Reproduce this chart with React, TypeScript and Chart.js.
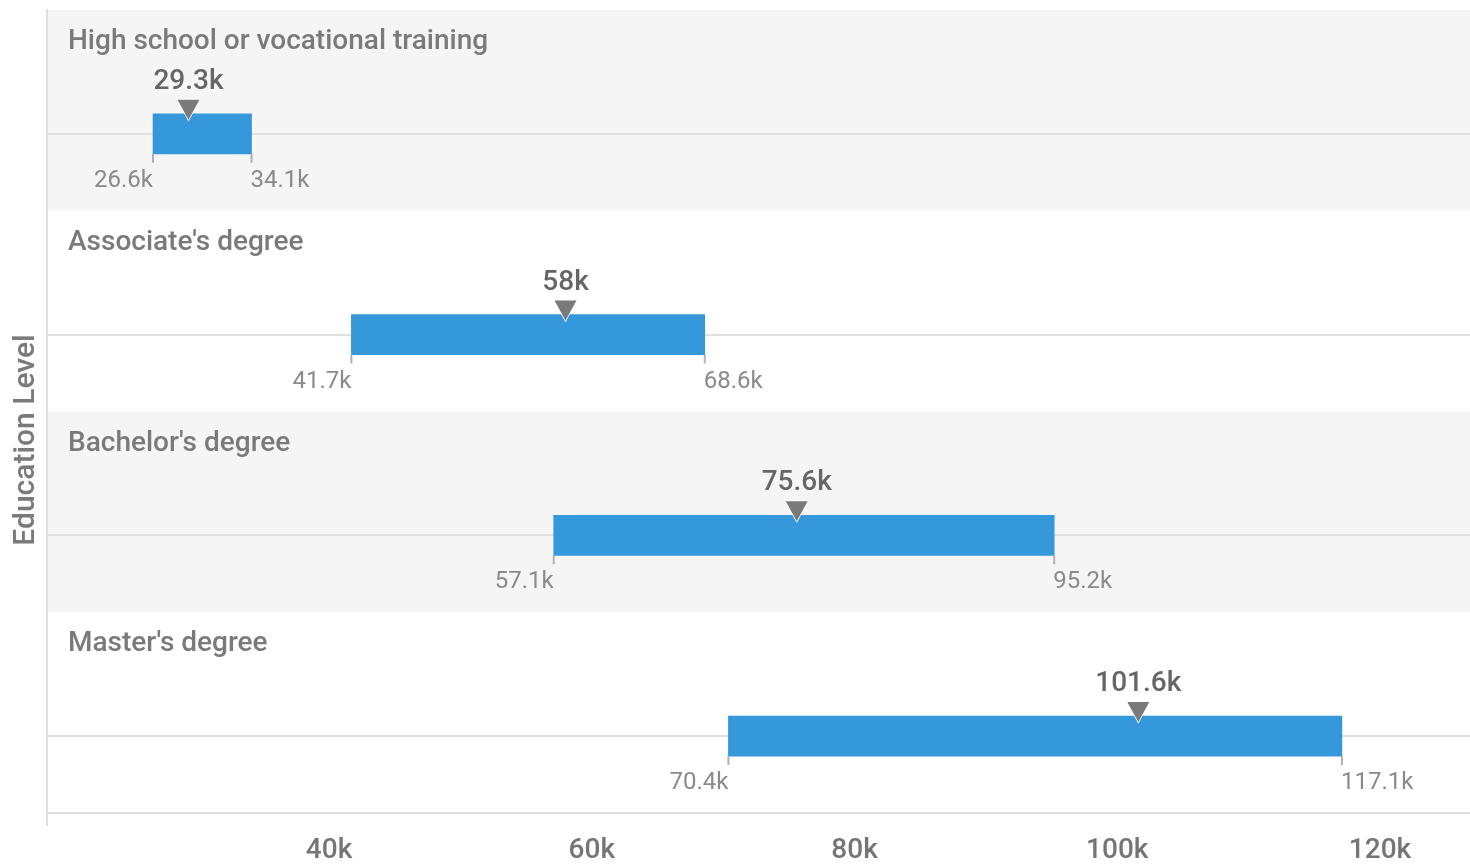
import React, { useEffect, useRef } from 'react';
import { Chart, registerables } from 'chart.js';

Chart.register(...registerables);

const categories = [
  'High school or vocational training',
  "Associate's degree",
  "Bachelor's degree",
  "Master's degree",
];
const lowValues = [26600, 41700, 57100, 70400];
const highValues = [34100, 68600, 95200, 117100];
const markerValues = [29300, 58000, 75600, 101600];
const xTickValues = [40000, 60000, 80000, 100000, 120000];
const yAxisTitle = 'Education Level';

const X_MIN = 18530;
const X_MAX = 126850;
const Y_MIN = -0.617;
const Y_MAX = 3.383;

const FONT = 'Roboto, "Noto Sans", sans-serif';

function fmtK(v: number): string {
  const k = Math.round(v / 100) / 10;
  return k + 'k';
}

const overlayPlugin = {
  id: 'overlay',
  beforeDraw(chart: any) {
    const { ctx, chartArea, scales } = chart;
    const y = scales.y;
    ctx.save();
    categories.forEach((_, i) => {
      const top = y.getPixelForValue(i + Y_MIN);
      const bottom = y.getPixelForValue(i + Y_MIN + 1);
      ctx.fillStyle = i % 2 === 0 ? '#f5f5f5' : '#ffffff';
      ctx.fillRect(chartArea.left, top, chartArea.right - chartArea.left, bottom - top);
    });
    ctx.restore();
  },
  afterDraw(chart: any) {
    const { ctx, chartArea, scales } = chart;
    const x = scales.x;
    const y = scales.y;
    const meta = chart.getDatasetMeta(0);
    ctx.save();
    // left axis extension below plot
    ctx.strokeStyle = '#e0e0e0';
    ctx.lineWidth = 2;
    ctx.beginPath();
    ctx.moveTo(chartArea.left, chartArea.bottom);
    ctx.lineTo(chartArea.left, chartArea.bottom + 13);
    ctx.stroke();

    categories.forEach((cat, i) => {
      const el = meta.data[i];
      const props = el.getProps(['y', 'height'], true);
      const barTop = props.y - props.height / 2;
      const barBottom = props.y + props.height / 2;
      const xl = x.getPixelForValue(lowValues[i]);
      const xh = x.getPixelForValue(highValues[i]);
      const xm = x.getPixelForValue(markerValues[i]);

      // end ticks
      ctx.strokeStyle = '#b0b0b0';
      ctx.lineWidth = 2;
      ctx.beginPath();
      ctx.moveTo(xl, barBottom);
      ctx.lineTo(xl, barBottom + 9);
      ctx.moveTo(xh, barBottom);
      ctx.lineTo(xh, barBottom + 9);
      ctx.stroke();

      // min/max labels
      ctx.font = `400 24px ${FONT}`;
      ctx.fillStyle = '#8a8a8a';
      ctx.textBaseline = 'middle';
      ctx.textAlign = 'right';
      ctx.fillText(fmtK(lowValues[i]), xl, barBottom + 27);
      ctx.textAlign = 'left';
      ctx.fillText(fmtK(highValues[i]), xh - 1, barBottom + 27);

      // marker triangle
      ctx.beginPath();
      ctx.moveTo(xm - 11, barTop - 14);
      ctx.lineTo(xm + 11, barTop - 14);
      ctx.lineTo(xm, barTop + 6);
      ctx.closePath();
      ctx.fillStyle = '#7a7a7a';
      ctx.strokeStyle = '#ffffff';
      ctx.lineWidth = 1.5;
      ctx.stroke();
      ctx.fill();

      // marker value
      ctx.font = `500 28px ${FONT}`;
      ctx.fillStyle = '#666666';
      ctx.textAlign = 'center';
      ctx.fillText(fmtK(markerValues[i]), xm, barTop - 32);

      // category label
      const bandTop = y.getPixelForValue(i + Y_MIN);
      ctx.font = `500 28px ${FONT}`;
      ctx.fillStyle = '#7a7a7a';
      ctx.textAlign = 'left';
      ctx.fillText(cat, chartArea.left + 21, bandTop + 32);
    });

    // y axis title
    ctx.translate(26, 440);
    ctx.rotate(-Math.PI / 2);
    ctx.font = `500 30px ${FONT}`;
    ctx.fillStyle = '#7a7a7a';
    ctx.textAlign = 'center';
    ctx.textBaseline = 'middle';
    ctx.fillText(yAxisTitle, 0, 0);
    ctx.restore();
  },
};

export default function App() {
  const ref = useRef<HTMLCanvasElement | null>(null);
  useEffect(() => {
    if (!ref.current) return;
    const chart = new Chart(ref.current, {
      type: 'bar',
      data: {
        datasets: [
          {
            label: 'Salary range',
            data: categories.map((_, i) => ({ x: [lowValues[i], highValues[i]], y: i })) as any,
            backgroundColor: '#3498db',
            borderWidth: 0,
            borderSkipped: false,
            barThickness: 40,
          },
        ],
      },
      options: {
        animation: false,
        responsive: true,
        maintainAspectRatio: false,
        indexAxis: 'y',
        layout: { padding: { top: 10, right: 0, left: 0, bottom: 0 } },
        plugins: {
          legend: { display: false },
          tooltip: { enabled: false },
        },
        scales: {
          x: {
            type: 'linear',
            min: X_MIN,
            max: X_MAX,
            offset: false,
            afterBuildTicks: (scale: any) => {
              scale.ticks = xTickValues.map((v) => ({ value: v }));
            },
            afterFit: (scale: any) => {
              scale.height = 54;
            },
            grid: { display: false, drawTicks: false, offset: false },
            border: { display: true, color: '#e0e0e0', width: 2 },
            ticks: {
              padding: 21,
              color: '#757575',
              font: { family: FONT, size: 28, weight: 500 as any },
              callback: (v: any) => fmtK(Number(v)),
              maxRotation: 0,
            },
          },
          y: {
            type: 'linear',
            reverse: true,
            min: Y_MIN,
            max: Y_MAX,
            offset: false,
            afterBuildTicks: (scale: any) => {
              scale.ticks = categories.map((_, i) => ({ value: i }));
            },
            afterFit: (scale: any) => {
              scale.width = 47;
            },
            grid: { display: true, color: '#e0e0e0', lineWidth: 2, drawTicks: false, offset: false },
            border: { display: true, color: '#e0e0e0', width: 2 },
            ticks: { display: false },
          },
        },
      },
      plugins: [overlayPlugin],
    });
    return () => chart.destroy();
  }, []);
  return (
    <div style={{ position: 'fixed', left: 0, top: 0, width: '1470px', height: '867px' }}>
      <canvas ref={ref} />
    </div>
  );
}
